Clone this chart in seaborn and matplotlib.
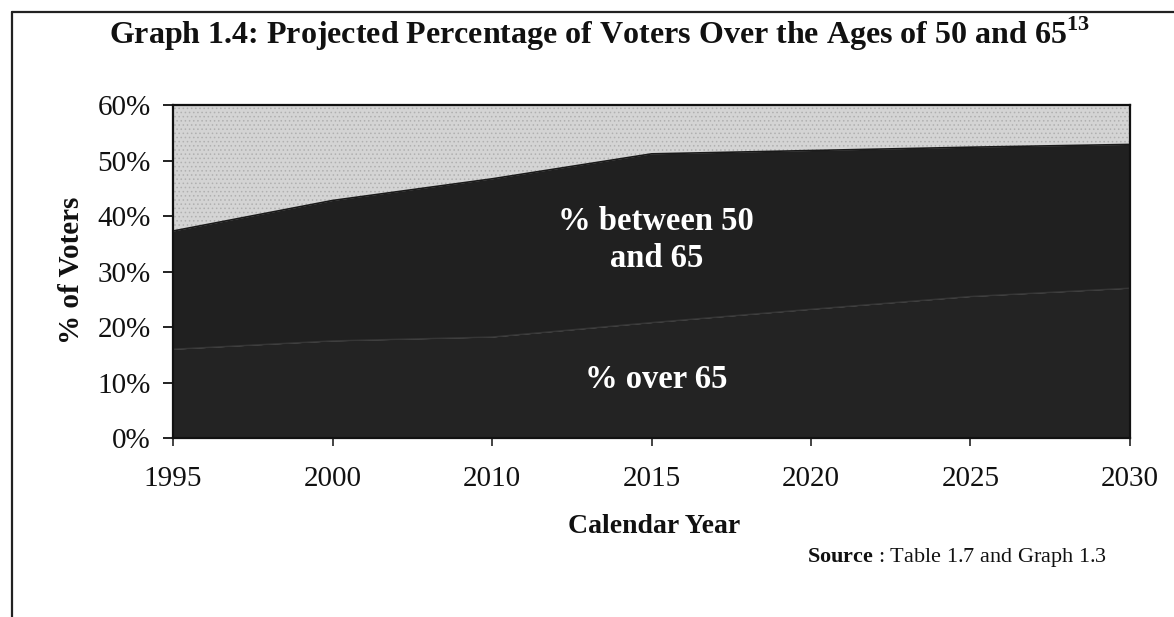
import matplotlib
matplotlib.use("Agg")
import matplotlib.pyplot as plt
import seaborn as sns
import pandas as pd
from matplotlib.ticker import FuncFormatter

# Projected share of voters by age group (percent of all voters)
years = ["1995", "2000", "2010", "2015", "2020", "2025", "2030"]
over_65 = [16.0, 17.5, 18.2, 20.8, 23.2, 25.5, 27.0]
over_50 = [37.3, 42.8, 46.7, 51.2, 51.8, 52.4, 52.9]

df = pd.DataFrame({"year": years, "pos": range(len(years)),
                   "over_65": over_65, "over_50": over_50})

sns.set_theme(style="white")
plt.rcParams["font.family"] = ["Liberation Serif", "DejaVu Serif"]
plt.rcParams["mathtext.fontset"] = "custom"
plt.rcParams["mathtext.bf"] = "Liberation Serif:bold"
plt.rcParams["mathtext.rm"] = "Liberation Serif"
plt.rcParams["hatch.linewidth"] = 0.6

fig = plt.figure(figsize=(11.74, 6.17), dpi=100)
fig.patch.set_facecolor("white")
ax = fig.add_axes([0.1474, 0.2901, 0.8151, 0.5397])
ax.set_facecolor("#d8d8d8")

x = df["pos"]
# stippled region above the 50+ share
ax.fill_between(x, df["over_50"], 60, facecolor="#d4d4d4", edgecolor="#b0b0b0",
                hatch="....", linewidth=0)
# between 50 and 65
ax.fill_between(x, df["over_65"], df["over_50"], color="#202020", linewidth=0)
# over 65
ax.fill_between(x, 0, df["over_65"], color="#232323", linewidth=0)
sns.lineplot(data=df, x="pos", y="over_50", ax=ax, color="#1a1a1a", linewidth=1.2)
sns.lineplot(data=df, x="pos", y="over_65", ax=ax, color="#363636", linewidth=1.0)

ax.set_xlim(0, len(years) - 1)
ax.set_ylim(0, 60)
ax.set_xticks(list(range(len(years))))
ax.set_xticklabels(years)
ax.set_yticks(range(0, 61, 10))
ax.yaxis.set_major_formatter(FuncFormatter(lambda v, _: f"{v:.0f}%"))
ax.set_xlabel("")
ax.set_ylabel("")
ax.tick_params(axis="y", direction="inout", length=14, width=1.3, labelsize=21,
               pad=9, left=True, color="#111111", labelcolor="#111111")
ax.tick_params(axis="x", direction="inout", length=12, width=1.1, labelsize=21,
               pad=14, bottom=True, color="#111111", labelcolor="#111111")
for s in ax.spines.values():
    s.set_color("#111111")
    s.set_linewidth(1.6)

# labels on the areas
ax.text(3.03, 35.6, "% between 50\nand 65", ha="center", va="center", color="white",
        fontsize=23.5, fontweight="bold", linespacing=1.25)
ax.text(3.03, 10.6, "% over 65", ha="center", va="center", color="white",
        fontsize=23.5, fontweight="bold")

fig.text(0.511, 0.945,
         r"Graph 1.4: Projected Percentage of Voters Over the Ages of 50 and 65$^{\mathbf{13}}$",
         ha="center", va="center", fontsize=23, fontweight="bold", color="#111111")
fig.text(0.0613, 0.5624, "% of Voters", rotation=90, ha="center", va="center",
         fontsize=21, fontweight="bold", color="#111111")
fig.text(0.557, 0.146, "Calendar Year", ha="center", va="center",
         fontsize=20, fontweight="bold", color="#111111")
fig.text(0.687, 0.097, r"$\mathbf{Source}$ : Table 1.7 and Graph 1.3", ha="left",
         va="center", fontsize=16, color="#111111")

# page frame: top rule and left rule
fig.add_artist(plt.Line2D([0.0098, 1.0], [0.981, 0.981], color="#222222", linewidth=1.6,
                          transform=fig.transFigure))
fig.add_artist(plt.Line2D([0.0098, 0.0098], [0.0, 0.981], color="#222222", linewidth=1.6,
                          transform=fig.transFigure))

fig.savefig("out.png", dpi=100)
